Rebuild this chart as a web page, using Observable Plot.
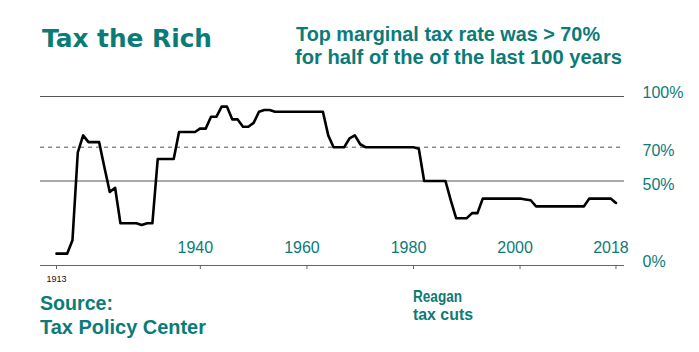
<!DOCTYPE html>
<html><head><meta charset="utf-8">
<script src="https://cdn.jsdelivr.net/npm/d3@7"></script>
<script src="https://cdn.jsdelivr.net/npm/@observablehq/plot@0.6"></script>
<style>
body{margin:0;background:#fff;}
#wrap{width:699px;height:352px;overflow:hidden;}
</style></head>
<body><div id="wrap"></div>
<script>
const years = [1913,1914,1915,1916,1917,1918,1919,1920,1921,1922,1923,1924,1925,1926,1927,1928,1929,1930,
  1931,1932,1933,1934,1935,1936,1937,1938,1939,1940,1941,1942,1943,1944,1945,1946,1947,1948,1949,1950,
  1951,1952,1953,1954,1955,1956,1957,1958,1959,1960,1961,1962,1963,1964,1965,1966,1967,1968,1969,1970,
  1971,1972,1973,1974,1975,1976,1977,1978,1979,1980,1981,1982,1983,1984,1985,1986,1987,1988,1989,1990,
  1991,1992,1993,1994,1995,1996,1997,1998,1999,2000,2001,2002,2003,2004,2005,2006,2007,2008,2009,2010,
  2011,2012,2013,2014,2015,2016,2017,2018];
const topRates = [7,7,7,15,67,77,73,73,73,58,43.5,46,25,25,25,25,24,25,
  25,63,63,63,63,79,79,79,79,81.1,81,88,88,94,94,86.45,86.45,82.13,82.13,84.36,
  91,92,92,91,91,91,91,91,91,91,91,91,91,77,70,70,70,75.25,77,71.75,
  70,70,70,70,70,70,70,70,70,70,69.13,50,50,50,50,50,38.5,28,28,28,
  31,31,39.6,39.6,39.6,39.6,39.6,39.6,39.6,39.6,39.1,38.6,35,35,35,35,35,35,35,35,
  35,35,39.6,39.6,39.6,39.6,39.6,37];
const tickYears = [1913,1940,1960,1980,2000,2018];
const labelYears = [1940,1960,1980,2000,2018];
const solidLevels = [100,50];
const dashedLevels = [70];
const pctLabelsHigh = [{v:100,t:"100%"},{v:0,t:"0%"}];
const pctLabelsLow = [{v:70,t:"70%"},{v:50,t:"50%"}];

const data = years.map((y,i)=>({year:y, rate:topRates[i]}));
const teal = "#0b7b78";
const narrow = "'Liberation Sans Narrow','Arial Narrow','Liberation Sans',Arial,sans-serif";

const chart = Plot.plot({
  width: 699, height: 352,
  marginTop: 96, marginBottom: 87, marginLeft: 40, marginRight: 75,
  x: {domain:[1910,2019.6]},
  y: {domain:[0,100], axis:null},
  style: {fontFamily:"'Liberation Sans',Arial,sans-serif", background:"#fff", overflow:"visible"},
  marks: [
    Plot.ruleY(solidLevels, {stroke:"#555", strokeWidth:1}),
    Plot.ruleY(dashedLevels, {stroke:"#555", strokeWidth:1, strokeDasharray:"4,4"}),
    Plot.ruleY([0], {stroke:"#666", strokeWidth:1.2}),
    Plot.axisX({ticks: tickYears, tickSize: 4, tickPadding: 6, stroke:"#666", fill:"#111", fontSize: 9,
      label: null, tickFormat: d => d === 1913 ? "1913" : ""}),
    Plot.text(labelYears, {x:d=>d, y:0, text:d=>String(d), dy:-18, dx:-5, fill:teal, fontSize:16}),
    Plot.text(pctLabelsHigh, {y:"v", text:"t", frameAnchor:"right", textAnchor:"start", dx:18, dy:-4, fill:teal, fontSize:16}),
    Plot.text(pctLabelsLow, {y:"v", text:"t", frameAnchor:"right", textAnchor:"start", dx:18, dy:4, fill:teal, fontSize:16}),
    Plot.line(data, {x:"year", y:"rate", stroke:"#000", strokeWidth:2.6, strokeLinejoin:"round"})
  ]
});
document.getElementById("wrap").appendChild(chart);

const svg = d3.select(chart);
const g = svg.append("g").attr("fill", teal).attr("text-anchor","start");
function txt(x, y, s, family, weight, size, len) {
  const t = g.append("text").attr("x",x).attr("y",y).attr("font-family",family)
    .attr("font-weight",weight).attr("font-size",size).text(s);
  if (len) t.attr("textLength",len).attr("lengthAdjust","spacingAndGlyphs");
  return t;
}
txt(42, 46.5, "Tax the Rich", "'DejaVu Sans',Verdana,sans-serif", "bold", 24, 170);
txt(296, 41, "Top marginal tax rate was > 70%", narrow, "bold", 19.5, 304);
txt(295, 64, "for half of the of the last 100 years", narrow, "bold", 19.5, 327);
txt(40, 310, "Source:", narrow, "bold", 21, 73);
txt(40, 334, "Tax Policy Center", narrow, "bold", 21, 166);
txt(413, 302, "Reagan", narrow, "bold", 16.5, 49);
txt(413, 320, "tax cuts", narrow, "bold", 16.5, 60);
</script></body></html>
